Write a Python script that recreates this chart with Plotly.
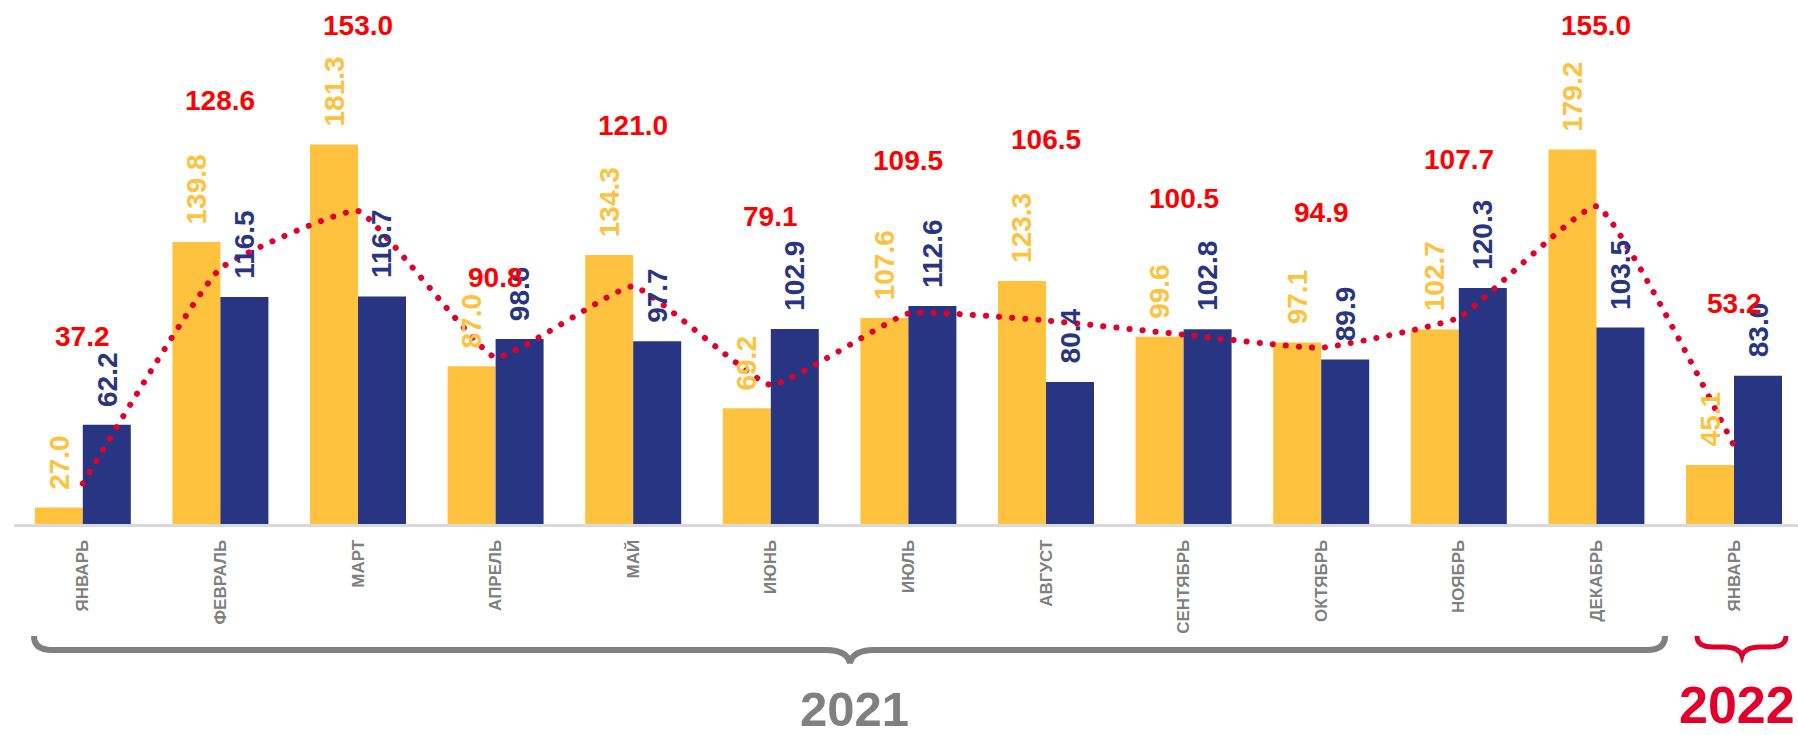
import numpy as np
import plotly.graph_objects as go

# ---------------- data ----------------
months = ["ЯНВАРЬ", "ФЕВРАЛЬ", "МАРТ", "АПРЕЛЬ", "МАЙ", "ИЮНЬ", "ИЮЛЬ",
          "АВГУСТ", "СЕНТЯБРЬ", "ОКТЯБРЬ", "НОЯБРЬ", "ДЕКАБРЬ", "ЯНВАРЬ"]
yellow_vals = [27.0, 139.8, 181.3, 87.0, 134.3, 69.2, 107.6, 123.3, 99.6, 97.1, 102.7, 179.2, 45.1]
blue_vals = [62.2, 116.5, 116.7, 98.6, 97.7, 102.9, 112.6, 80.4, 102.8, 89.9, 120.3, 103.5, 83.0]
line_vals = [37.2, 128.6, 153.0, 90.8, 121.0, 79.1, 109.5, 106.5, 100.5, 94.9, 107.7, 155.0, 53.2]
year_labels = ["2021", "2022"]

# label placement (positions only, in axis units)
line_label_y = [99.6, 200, 232, 124.8, 189.3, 150.5, 174.3, 183.5, 158.3, 152.5, 174.8, 232, 113.6]

# ---------------- styles / layout ----------------
YEL = "#FEC23F"
BLU = "#283583"
RED_TXT = "#FF0000"
RED_LINE = "#E2002A"
GRAY = "#808080"
FONT = "Arial, Liberation Sans, sans-serif"

FIG_W, FIG_H = 1798, 735
ML, MR, MT, MB = 14, 0, 20, 211
PW, PH = FIG_W - ML - MR, FIG_H - MT - MB
PX_PER_CAT = 137.6
PX_PER_UNIT = 2.353
Y_MIN = 20
x_range = [-0.5, -0.5 + PW / PX_PER_CAT]
y_range = [Y_MIN, Y_MIN + PH / PX_PER_UNIT]
BARGAP = 1 - 96 / PX_PER_CAT
bar_px = (1 - BARGAP) / 2 * PX_PER_CAT

idx = np.arange(len(months))

fig = go.Figure()
fig.add_trace(go.Bar(x=idx, y=yellow_vals, marker=dict(color=YEL, line=dict(width=0)),
                     hoverinfo="skip"))
fig.add_trace(go.Bar(x=idx, y=blue_vals, marker=dict(color=BLU, line=dict(width=0)),
                     hoverinfo="skip"))
fig.add_trace(go.Scatter(x=idx, y=line_vals, mode="lines",
                         line=dict(color=RED_LINE, width=6, dash="0.1px,13px",
                                   shape="spline", smoothing=0.35),
                         hoverinfo="skip"))

ann = []
for i in idx:
    ann.append(dict(x=i, y=yellow_vals[i], xref="x", yref="y", text=f"{yellow_vals[i]:.1f}",
                    showarrow=False, textangle=-90, xanchor="center", yanchor="bottom",
                    xshift=-bar_px / 2, yshift=16,
                    font=dict(family=FONT, size=28, color=YEL, weight="bold")))
    ann.append(dict(x=i, y=blue_vals[i], xref="x", yref="y", text=f"{blue_vals[i]:.1f}",
                    showarrow=False, textangle=-90, xanchor="center", yanchor="bottom",
                    xshift=bar_px / 2, yshift=16,
                    font=dict(family=FONT, size=28, color=BLU, weight="bold")))
    ann.append(dict(x=i, y=line_label_y[i], xref="x", yref="y", text=f"{line_vals[i]:.1f}",
                    showarrow=False, xanchor="center", yanchor="middle",
                    font=dict(family=FONT, size=28, color=RED_TXT, weight="bold")))


def px(xp):
    return (xp - ML) / PW


def py(yp):
    return (FIG_H - MB - yp) / PH


def brace(x0, x1, xc, ytop, ymid, ytip, r, rt):
    pts = [
        f"M {px(x0)},{py(ytop)}",
        f"Q {px(x0)},{py(ymid)} {px(x0 + r)},{py(ymid)}",
        f"L {px(xc - rt)},{py(ymid)}",
        f"Q {px(xc - 3)},{py(ymid)} {px(xc)},{py(ytip)}",
        f"Q {px(xc + 3)},{py(ymid)} {px(xc + rt)},{py(ymid)}",
        f"L {px(x1 - r)},{py(ymid)}",
        f"Q {px(x1)},{py(ymid)} {px(x1)},{py(ytop)}",
    ]
    return " ".join(pts)


shapes = [
    dict(type="path", xref="paper", yref="paper",
         path=brace(34, 1665, 850, 636, 650, 663, 18, 24),
         line=dict(color=GRAY, width=6), fillcolor="rgba(0,0,0,0)"),
    dict(type="path", xref="paper", yref="paper",
         path=brace(1697, 1786, 1742, 636, 647, 656, 16, 18),
         line=dict(color=RED_LINE, width=5), fillcolor="rgba(0,0,0,0)"),
]

ann.append(dict(x=px(854), y=py(709), xref="paper", yref="paper", text=year_labels[0],
                showarrow=False, xanchor="center", yanchor="middle",
                font=dict(family=FONT, size=49, color=GRAY, weight="bold")))
ann.append(dict(x=px(1737), y=py(705), xref="paper", yref="paper", text=year_labels[1],
                showarrow=False, xanchor="center", yanchor="middle",
                font=dict(family=FONT, size=52, color=RED_LINE, weight="bold")))

fig.update_layout(
    width=FIG_W, height=FIG_H,
    margin=dict(l=ML, r=MR, t=MT, b=MB, pad=0),
    paper_bgcolor="white", plot_bgcolor="white",
    barmode="group", bargap=BARGAP, bargroupgap=0,
    showlegend=False,
    annotations=ann, shapes=shapes,
    xaxis=dict(range=x_range, tickmode="array", tickvals=idx, ticktext=months,
               tickangle=-90, showgrid=False, zeroline=False,
               showline=True, linecolor="#D9D9D9", linewidth=3,
               ticks="", ticklabelstandoff=6,
               tickfont=dict(family=FONT, size=17, color="#7F7F7F", weight="bold")),
    yaxis=dict(range=y_range, visible=False, showgrid=False, zeroline=False),
)

post = ("document.body.style.margin='0';document.body.style.padding='0';"
        "var s=document.createElement('style');"
        "s.innerHTML='body{margin:0;padding:0;} .scatterlayer .js-line{stroke-linecap:round !important;}';"
        "document.head.appendChild(s);")
fig.write_html("out.html", post_script=post, config={"displayModeBar": False})
